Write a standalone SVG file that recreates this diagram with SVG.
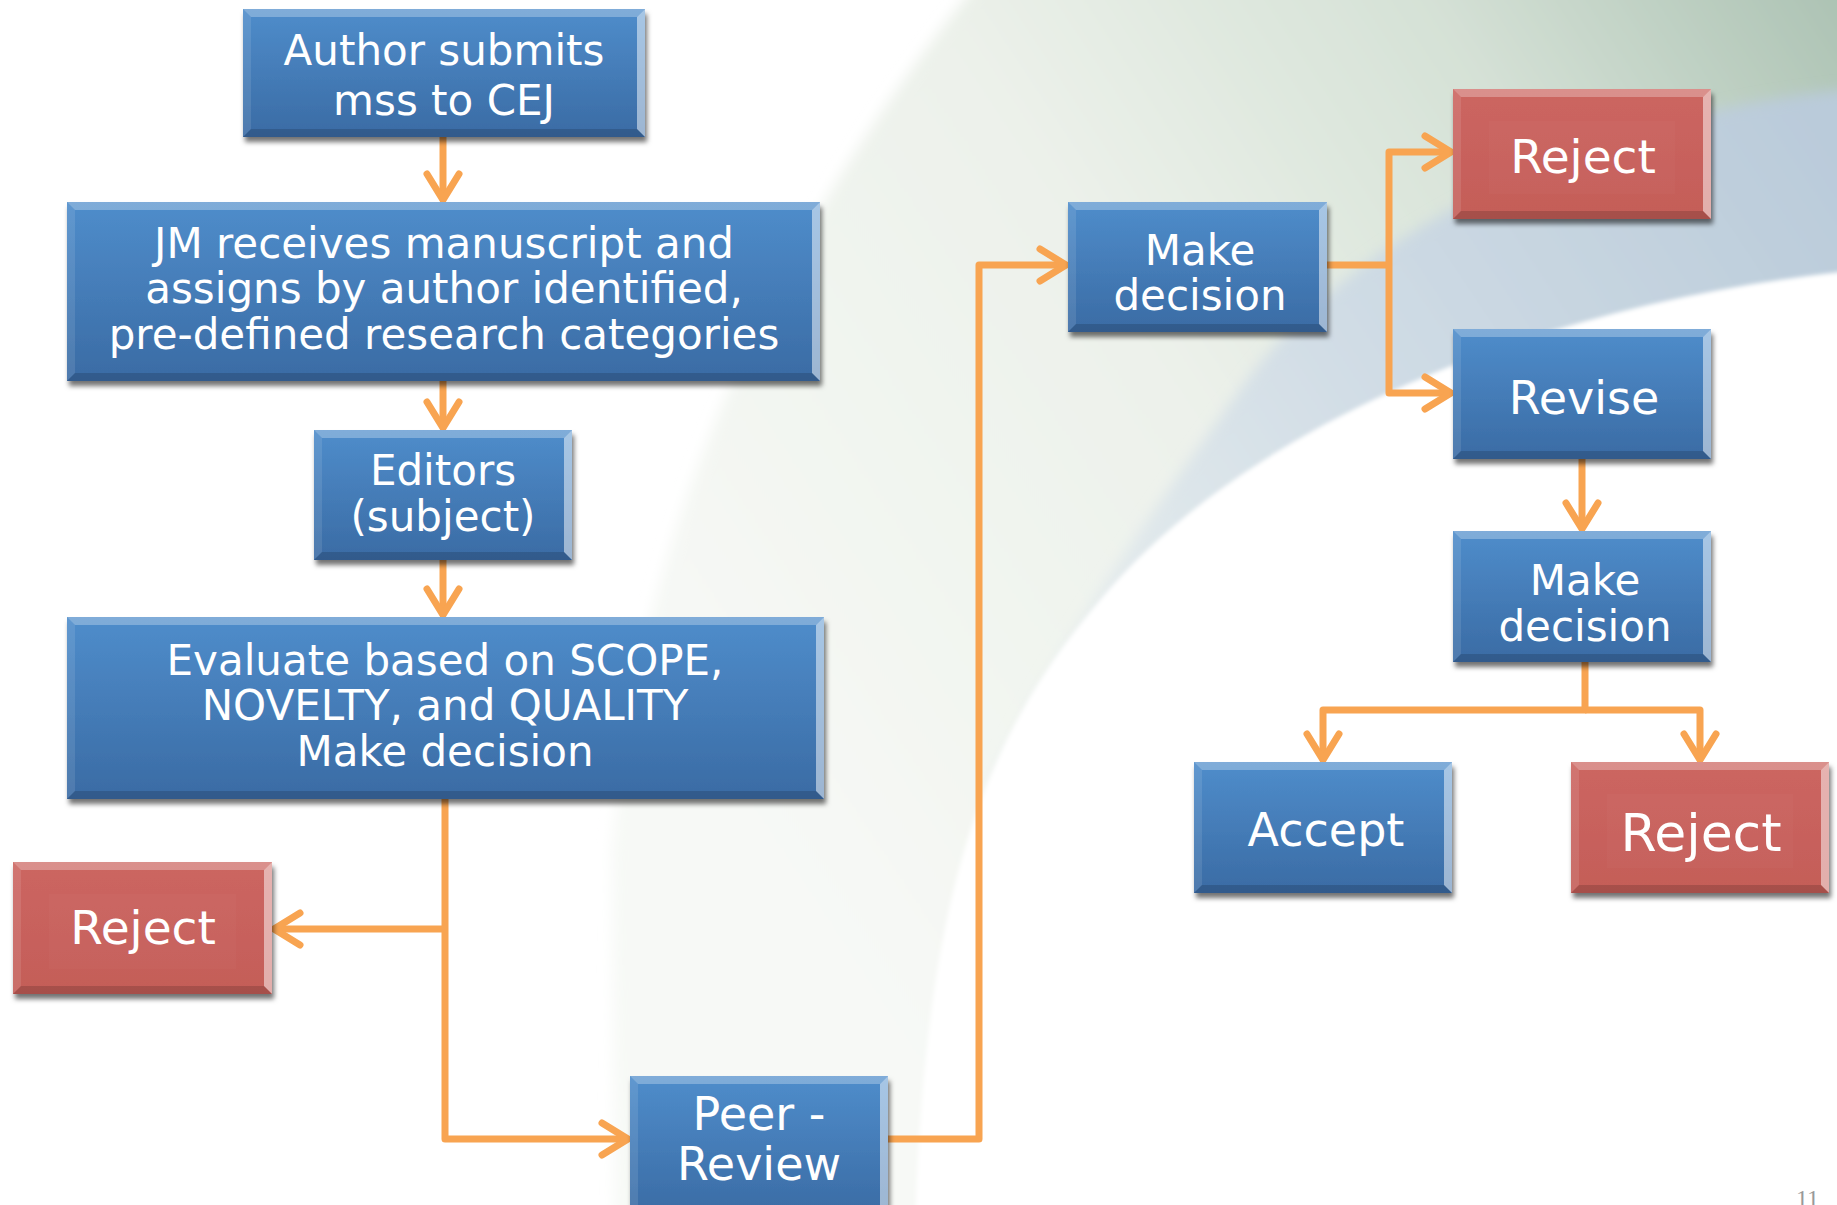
<svg xmlns="http://www.w3.org/2000/svg" width="1837" height="1205" viewBox="0 0 1837 1205">
<defs>
<linearGradient id="bgPale" gradientUnits="userSpaceOnUse" x1="700" y1="750" x2="1837" y2="0">
<stop offset="0" stop-color="#F7F9F6"/>
<stop offset="0.45" stop-color="#ECF1EA"/>
<stop offset="0.75" stop-color="#D5E1D6"/>
<stop offset="1" stop-color="#ADC3B4"/>
</linearGradient>
<linearGradient id="bgBlue" gradientUnits="userSpaceOnUse" x1="1837" y1="160" x2="1000" y2="720">
<stop offset="0" stop-color="#BACBDA"/>
<stop offset="0.5" stop-color="#D0DCE5"/>
<stop offset="1" stop-color="#ECF1F0"/>
</linearGradient>
<linearGradient id="blueFace" x1="0" y1="0" x2="0" y2="1">
<stop offset="0" stop-color="#4F8DCB"/>
<stop offset="1" stop-color="#3A6BA4"/>
</linearGradient>
<linearGradient id="redFace" x1="0" y1="0" x2="0" y2="1">
<stop offset="0" stop-color="#CC6661"/>
<stop offset="1" stop-color="#C45D58"/>
</linearGradient>
<filter id="sh" x="-10%" y="-10%" width="120%" height="130%">
<feDropShadow dx="2" dy="5" stdDeviation="2.5" flood-color="#000" flood-opacity="0.55"/>
</filter>
<filter id="soft" x="-5%" y="-5%" width="110%" height="110%">
<feGaussianBlur stdDeviation="7"/>
</filter>
<filter id="soft2" x="-5%" y="-5%" width="110%" height="110%">
<feGaussianBlur stdDeviation="2"/>
</filter>
<marker id="ah" markerUnits="userSpaceOnUse" markerWidth="40" markerHeight="40" viewBox="-34 -20 40 40" refX="0" refY="0" orient="auto">
<path d="M-26,-16 L0,0 L-26,16" fill="none" stroke="#F8A451" stroke-width="7" stroke-linecap="round" stroke-linejoin="round"/>
</marker>
<style>
.b{fill:url(#blueFace);filter:url(#sh)}
.r{fill:url(#redFace);filter:url(#sh)}
.bt{fill:#fff;opacity:0.28}
.br{fill:#fff;opacity:0.5}
.bl{fill:#fff;opacity:0.1}
.bb{fill:#000;opacity:0.15}
.in{fill:#fff;opacity:0.025}
.t{font-family:"DejaVu Sans",Verdana,sans-serif;fill:#fff;text-anchor:middle}
.c{fill:none;stroke:#F8A451;stroke-width:7;stroke-linejoin:round}
.pg{font-family:"Liberation Serif",serif;fill:#999;font-size:24px}
</style>
</defs>
<g id="background">
<rect x="0" y="0" width="1837" height="1205" fill="#fff"/>
<path d="M980,-20 C800,200 640,500 612,850 L615,1230 L1860,1230 L1860,-20 Z" fill="url(#bgPale)" filter="url(#soft)"/>
<path d="M1860,88 C1600,110 1350,230 1240,390 C1160,500 1060,640 990,780 L1860,1230 Z" fill="url(#bgBlue)" filter="url(#soft)"/>
<path d="M1860,270 C1550,300 1250,420 1100,600 C980,740 925,900 915,1230 L1860,1230 Z" fill="#fff" filter="url(#soft2)"/>
</g>
<g id="connectors">
<path class="c" d="M443,137 V200" marker-end="url(#ah)"/>
<path class="c" d="M443,381 V428" marker-end="url(#ah)"/>
<path class="c" d="M443,560 V615" marker-end="url(#ah)"/>
<path class="c" d="M445,797 V1139 H628" marker-end="url(#ah)"/>
<path class="c" d="M445,929 H274" marker-end="url(#ah)"/>
<path class="c" d="M888,1139 H979 V265 H1066" marker-end="url(#ah)"/>
<path class="c" d="M1327,265 H1389"/>
<path class="c" d="M1389,265 V152 H1451" marker-end="url(#ah)"/>
<path class="c" d="M1389,265 V393 H1451" marker-end="url(#ah)"/>
<path class="c" d="M1582,459 V529" marker-end="url(#ah)"/>
<path class="c" d="M1585,662 V710 H1323 V760" marker-end="url(#ah)"/>
<path class="c" d="M1585,710 H1700 V760" marker-end="url(#ah)"/>
</g>
<g id="n-author">
<rect class="b" x="243" y="9" width="402" height="128"/>
<polygon class="bt" points="243,9 645,9 637,17 251,17"/>
<polygon class="br" points="645,9 645,137 637,129 637,17"/>
<polygon class="bl" points="243,9 243,137 251,129 251,17"/>
<polygon class="bb" points="243,137 645,137 637,129 251,129"/>
<text class="t" font-size="42" x="444" y="65">Author submits</text>
<text class="t" font-size="42" x="444" y="115">mss to CEJ</text>
</g>
<g id="n-jm">
<rect class="b" x="67" y="202" width="753" height="179"/>
<polygon class="bt" points="67,202 820,202 812,210 75,210"/>
<polygon class="br" points="820,202 820,381 812,373 812,210"/>
<polygon class="bl" points="67,202 67,381 75,373 75,210"/>
<polygon class="bb" points="67,381 820,381 812,373 75,373"/>
<text class="t" font-size="42" x="444" y="258">JM receives manuscript and</text>
<text class="t" font-size="42" x="444" y="303">assigns by author identified,</text>
<text class="t" font-size="42" x="444" y="349">pre-defined research categories</text>
</g>
<g id="n-editors">
<rect class="b" x="314" y="430" width="258" height="130"/>
<polygon class="bt" points="314,430 572,430 564,438 322,438"/>
<polygon class="br" points="572,430 572,560 564,552 564,438"/>
<polygon class="bl" points="314,430 314,560 322,552 322,438"/>
<polygon class="bb" points="314,560 572,560 564,552 322,552"/>
<text class="t" font-size="42" x="443" y="485">Editors</text>
<text class="t" font-size="42" x="443" y="531">(subject)</text>
</g>
<g id="n-evaluate">
<rect class="b" x="67" y="617" width="757" height="182"/>
<polygon class="bt" points="67,617 824,617 816,625 75,625"/>
<polygon class="br" points="824,617 824,799 816,791 816,625"/>
<polygon class="bl" points="67,617 67,799 75,791 75,625"/>
<polygon class="bb" points="67,799 824,799 816,791 75,791"/>
<text class="t" font-size="42" x="445" y="675">Evaluate based on SCOPE,</text>
<text class="t" font-size="42" x="445" y="720">NOVELTY, and QUALITY</text>
<text class="t" font-size="42" x="445" y="766">Make decision</text>
</g>
<g id="n-reject1">
<rect class="r" x="13" y="862" width="259" height="132"/>
<rect class="in" x="49" y="894" width="187" height="75"/>
<polygon class="bt" points="13,862 272,862 264,870 21,870"/>
<polygon class="br" points="272,862 272,994 264,986 264,870"/>
<polygon class="bl" points="13,862 13,994 21,986 21,870"/>
<polygon class="bb" points="13,994 272,994 264,986 21,986"/>
<text class="t" font-size="47" x="143" y="944">Reject</text>
</g>
<g id="n-peer">
<rect class="b" x="630" y="1076" width="258" height="140"/>
<polygon class="bt" points="630,1076 888,1076 880,1084 638,1084"/>
<polygon class="br" points="888,1076 888,1216 880,1208 880,1084"/>
<polygon class="bl" points="630,1076 630,1216 638,1208 638,1084"/>
<text class="t" font-size="46" x="759" y="1130">Peer -</text>
<text class="t" font-size="46" x="759" y="1180">Review</text>
</g>
<g id="n-decision1">
<rect class="b" x="1068" y="202" width="259" height="130"/>
<polygon class="bt" points="1068,202 1327,202 1319,210 1076,210"/>
<polygon class="br" points="1327,202 1327,332 1319,324 1319,210"/>
<polygon class="bl" points="1068,202 1068,332 1076,324 1076,210"/>
<polygon class="bb" points="1068,332 1327,332 1319,324 1076,324"/>
<text class="t" font-size="42" x="1200" y="265">Make</text>
<text class="t" font-size="42" x="1200" y="310">decision</text>
</g>
<g id="n-reject2">
<rect class="r" x="1453" y="89" width="258" height="130"/>
<rect class="in" x="1489" y="121" width="186" height="73"/>
<polygon class="bt" points="1453,89 1711,89 1703,97 1461,97"/>
<polygon class="br" points="1711,89 1711,219 1703,211 1703,97"/>
<polygon class="bl" points="1453,89 1453,219 1461,211 1461,97"/>
<polygon class="bb" points="1453,219 1711,219 1703,211 1461,211"/>
<text class="t" font-size="47" x="1583" y="173">Reject</text>
</g>
<g id="n-revise">
<rect class="b" x="1453" y="329" width="258" height="130"/>
<polygon class="bt" points="1453,329 1711,329 1703,337 1461,337"/>
<polygon class="br" points="1711,329 1711,459 1703,451 1703,337"/>
<polygon class="bl" points="1453,329 1453,459 1461,451 1461,337"/>
<polygon class="bb" points="1453,459 1711,459 1703,451 1461,451"/>
<text class="t" font-size="46" x="1584" y="414">Revise</text>
</g>
<g id="n-decision2">
<rect class="b" x="1453" y="531" width="258" height="131"/>
<polygon class="bt" points="1453,531 1711,531 1703,539 1461,539"/>
<polygon class="br" points="1711,531 1711,662 1703,654 1703,539"/>
<polygon class="bl" points="1453,531 1453,662 1461,654 1461,539"/>
<polygon class="bb" points="1453,662 1711,662 1703,654 1461,654"/>
<text class="t" font-size="42" x="1585" y="595">Make</text>
<text class="t" font-size="42" x="1585" y="641">decision</text>
</g>
<g id="n-accept">
<rect class="b" x="1194" y="762" width="258" height="131"/>
<polygon class="bt" points="1194,762 1452,762 1444,770 1202,770"/>
<polygon class="br" points="1452,762 1452,893 1444,885 1444,770"/>
<polygon class="bl" points="1194,762 1194,893 1202,885 1202,770"/>
<polygon class="bb" points="1194,893 1452,893 1444,885 1202,885"/>
<text class="t" font-size="46" x="1326" y="846">Accept</text>
</g>
<g id="n-reject3">
<rect class="r" x="1571" y="762" width="258" height="131"/>
<rect class="in" x="1607" y="794" width="186" height="74"/>
<polygon class="bt" points="1571,762 1829,762 1821,770 1579,770"/>
<polygon class="br" points="1829,762 1829,893 1821,885 1821,770"/>
<polygon class="bl" points="1571,762 1571,893 1579,885 1579,770"/>
<polygon class="bb" points="1571,893 1829,893 1821,885 1579,885"/>
<text class="t" font-size="52" x="1701" y="851">Reject</text>
</g>
<text class="pg" x="1796" y="1206">11</text>
</svg>
